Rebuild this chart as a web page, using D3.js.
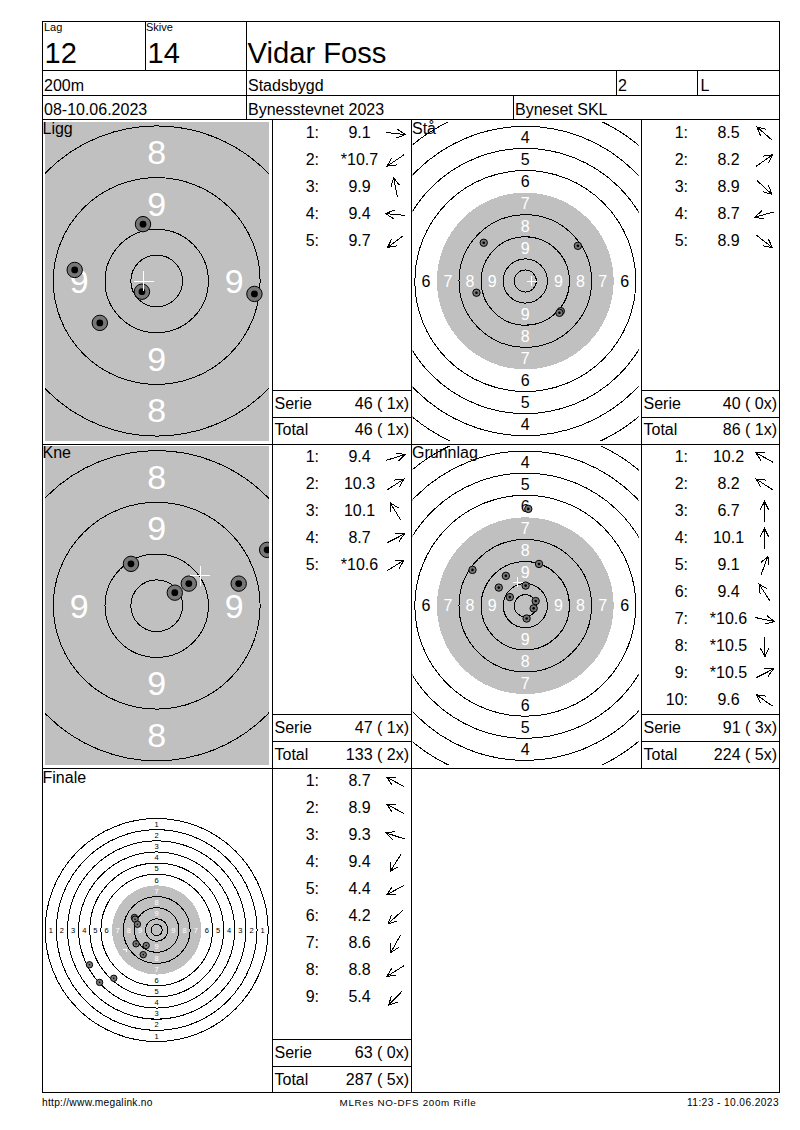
<!DOCTYPE html>
<html><head><meta charset="utf-8">
<style>html,body{margin:0;padding:0;background:#fff}svg{display:block}text{font-family:"Liberation Sans",Arial,sans-serif;fill:#000}</style>
<script src="https://cdn.jsdelivr.net/npm/d3@7"></script></head><body><div id="c"></div>
<script>
// Values. Shot positions are in ring widths from the target centre.
const liggScores=["9.1","*10.7","9.9","9.4","9.7"];
const liggDirs=[6,146,-101,-175,143];
const liggX=[1.89,-0.285,-0.265,-1.586,-1.10];
const liggY=[0.25,0.207,-1.10,-0.214,0.81];
const liggMean=[-0.25,0];
const staScores=["8.5","8.2","8.9","8.7","8.9"];
const staDirs=[-139,-35,43,165,38];
const staX=[-1.88,2.38,-2.21,1.606,1.545];
const staY=[-1.73,-1.59,0.53,1.364,1.44];
const staMean=[0.30,0];
const kneScores=["9.4","10.3","10.1","8.7","*10.6"];
const kneDirs=[-17,-33,-121,-27,-32];
const kneX=[2.136,1.586,-0.498,0.621,0.35];
const kneY=[-1.08,-0.427,-0.809,-0.427,-0.252];
const kneMean=[0.84,-0.576];
const grunnScores=["10.2","8.2","6.7","10.1","9.1","9.4","*10.6","*10.5","*10.5","9.6"];
const grunnDirs=[-151,-147,-90,-90,-70,-123,12,87,-27,-145];
const grunnX=[0.136,-2.39,0.62,-0.88,-1.2,0.015,-0.70,0.47,0.38,0.06];
const grunnY=[-4.38,-1.62,-1.89,-1.35,-0.82,-0.91,-0.39,-0.21,0.12,0.58];
const grunnMean=[-0.35,-1.05];
const finaleScores=["8.7","8.9","9.3","9.4","4.4","4.2","8.6","8.8","5.4"];
const finaleDirs=[-152,-152,-162,123,152,138,119,148,134];
const finaleX=[-2,-1.94,-1.73,-1.85,-0.94,-1.21,-6.03,-5.12,-3.85];
const finaleY=[-1.12,-0.97,-0.52,1.24,1.39,2.21,3.12,4.70,4.33];
const finaleMean=[-2.75,1.72];
const serieValues=["46 ( 1x)","40 ( 0x)","47 ( 1x)","91 ( 3x)","63 ( 0x)"];
const totalValues=["46 ( 1x)","86 ( 1x)","133 ( 2x)","224 ( 5x)","287 ( 5x)"];
const ticksLigg={v:[8,9],h:[9]};
const ticksSta={v:[4,5,6,7,8,9],h:[6,7,8,9]};
const ticksFinale={v:[1,2,3,4,5,6,7,8,9],h:[1,2,3,4,5,6,7,8,9]};
const ringScores=[1,2,3,4,5,6,8,9,10];

const GREY="#c0c0c0";
const svg=d3.select("#c").append("svg").attr("width",800).attr("height",1130);
const defs=svg.append("defs");
function txt(s,x,y,size,anchor,ls){
  const t=svg.append("text").attr("x",x).attr("y",y).attr("font-size",size)
    .attr("text-anchor",anchor||"start").text(s);
  if(ls) t.style("letter-spacing",ls+"px");
  return t;
}
const panels=[
 {id:"ligg",name:"Ligg",nx:42.5,ny:133.5,cx:156.7,cy:281,unit:51.7,clip:[45,122,224,319],tick:ticksLigg,fs:34,rs:7.7,ri:3.4,scores:liggScores,dirs:liggDirs,X:liggX,Y:liggY,mean:liggMean,cross:[10,10,10,10],col:272,top:132,rowSer:[408.7,434.7],idx:0},
 {id:"sta",name:"Stå",nx:412,ny:133.5,cx:525.3,cy:281,unit:22.1,clip:[412.7,122,226,319],tick:ticksSta,fs:16,rs:3.7,ri:1.3,scores:staScores,dirs:staDirs,X:staX,Y:staY,mean:staMean,cross:[5,5,5,5],col:641,top:132,rowSer:[408.7,434.7],idx:1},
 {id:"kne",name:"Kne",nx:42.5,ny:458,cx:156.7,cy:605.7,unit:51.7,clip:[45,446,224,319],tick:ticksLigg,fs:34,rs:7.7,ri:3.4,scores:kneScores,dirs:kneDirs,X:kneX,Y:kneY,mean:kneMean,cross:[10,10,10,10],col:272,top:456,rowSer:[732.8,759.5],idx:2},
 {id:"grunn",name:"Grunnlag",nx:412,ny:458,cx:525.3,cy:605.7,unit:22.1,clip:[412.7,446,226,319],tick:ticksSta,fs:16,rs:3.7,ri:1.3,scores:grunnScores,dirs:grunnDirs,X:grunnX,Y:grunnY,mean:grunnMean,cross:[5,5,5,5],col:641,top:456,rowSer:[732.8,759.5],idx:3},
 {id:"fin",name:"Finale",nx:42.5,ny:782.5,cx:156.7,cy:930,unit:11.15,clip:[43,800,228,260],tick:ticksFinale,fs:7.5,rs:3.2,ri:0.8,scores:finaleScores,dirs:finaleDirs,X:finaleX,Y:finaleY,mean:finaleMean,cross:[3,0,0,3],col:272,top:780.5,rowSer:[1057.8,1084.5],idx:4}
];
panels.forEach(p=>{
  const r=d3.scaleLinear().domain([0,1]).range([0,p.unit]);
  defs.append("clipPath").attr("id","cl-"+p.id).append("rect")
    .attr("x",p.clip[0]).attr("y",p.clip[1]).attr("width",p.clip[2]).attr("height",p.clip[3]);
  const g=svg.append("g").attr("clip-path",`url(#cl-${p.id})`);
  const t=g.append("g").attr("transform",`translate(${p.cx},${p.cy})`);
  t.append("circle").attr("r",r(4)).attr("fill",GREY).attr("shape-rendering","crispEdges");
  t.selectAll("circle.ring").data(ringScores).join("circle").attr("class","ring")
    .attr("r",d=>r(11-d)).attr("fill","none").attr("stroke","#000").attr("stroke-width",1).attr("shape-rendering","crispEdges");
  t.append("circle").attr("r",r(0.5)).attr("fill","none").attr("stroke","#000").attr("shape-rendering","crispEdges");
  const col=d=>d>=7?"#fff":"#000";
  p.tick.v.forEach(d=>[-1,1].forEach(s=>{
    t.append("text").attr("x",0).attr("y",s*r(10.5-d)).attr("dy","0.36em").attr("text-anchor","middle")
      .attr("font-size",p.fs).style("fill",col(d)).text(d);
  }));
  p.tick.h.forEach(d=>[-1,1].forEach(s=>{
    t.append("text").attr("x",s*r(10.5-d)).attr("y",0).attr("dy","0.36em").attr("text-anchor","middle")
      .attr("font-size",p.fs).style("fill",col(d)).text(d);
  }));
  const shots=p.X.map((x,i)=>({x,y:p.Y[i]}));
  const sg=t.selectAll("g.shot").data(shots).join("g").attr("class","shot")
    .attr("transform",d=>`translate(${r(d.x)},${r(d.y)})`);
  sg.append("circle").attr("r",p.rs).attr("fill","#777").attr("stroke","#000");
  sg.append("circle").attr("r",p.ri).attr("fill","#000");
  const mx=r(p.mean[0]),my=r(p.mean[1]),c=p.cross;
  t.append("path").attr("fill","none").attr("stroke","#fff")
    .attr("d",`M${mx-c[0]},${my}H${mx+c[1]}M${mx},${my-c[2]}V${my+c[3]}`).attr("shape-rendering","crispEdges");

  txt(p.name,p.nx,p.ny,16);

  const y=d3.scaleLinear().domain([0,1]).range([p.top,p.top+27]);
  p.scores.forEach((s,i)=>{
    txt((i+1)+":",p.col+47,y(i)+5.7,16,"end");
    txt(s,p.col+87.5,y(i)+5.7,16,"middle");
    const a=p.dirs[i]*Math.PI/180,L=10,ax=p.col+123.5,ay=y(i)+1.5;
    const hx=ax+L*Math.cos(a),hy=ay+L*Math.sin(a),tx=ax-L*Math.cos(a),ty=ay-L*Math.sin(a);
    const b=9.5,sp=27*Math.PI/180;
    svg.append("path").attr("fill","none").attr("stroke","#000").attr("stroke-width",1).attr("shape-rendering","crispEdges")
      .attr("d",`M${tx},${ty}L${hx},${hy}M${hx-b*Math.cos(a-sp)},${hy-b*Math.sin(a-sp)}L${hx},${hy}L${hx-b*Math.cos(a+sp)},${hy-b*Math.sin(a+sp)}`);
  });
  const right=p.col===272?409:777;
  txt("Serie",p.col+2.5,p.rowSer[0],16);
  txt(serieValues[p.idx],right,p.rowSer[0],16,"end");
  txt("Total",p.col+2.5,p.rowSer[1],16);
  txt(totalValues[p.idx],right,p.rowSer[1],16,"end");
});

const H=[[42,780,21.5],[42,780,70.5],[42,780,95.5],[42,780,119.5],[42,780,444.5],[42,780,768.5],[42,780,1092.5],
 [272,411,390.5],[272,411,417.5],[641,780,390.5],[641,780,417.5],[272,411,714.5],[272,411,741.5],[641,780,714.5],[641,780,741.5],[272,411,1039.5],[272,411,1066.5]];
const V=[[42.5,21,1093],[779.5,21,1093],[145.5,21,71],[246.5,21,120],[616.5,70,96],[697.5,70,96],[513.5,95,120],
 [272.5,119,1093],[411.5,119,1093],[641.5,119,769]];
const fr=svg.append("g").attr("stroke","#000").attr("stroke-width",1).attr("shape-rendering","crispEdges");
fr.selectAll("line.h").data(H).join("line").attr("class","h").attr("x1",d=>d[0]).attr("x2",d=>d[1]).attr("y1",d=>d[2]).attr("y2",d=>d[2]);
fr.selectAll("line.v").data(V).join("line").attr("class","v").attr("x1",d=>d[0]).attr("x2",d=>d[0]).attr("y1",d=>d[1]).attr("y2",d=>d[2]);

txt("Lag",44,31,11); txt("Skive",146,31,11);
txt("12",44.5,63,29); txt("14",147.5,63,29); txt("Vidar Foss",247.5,63,29.2);
txt("200m",44,91,16); txt("Stadsbygd",248,91,16); txt("2",618,91,16); txt("L",700.5,91,16);
txt("08-10.06.2023",44,115,16); txt("Bynesstevnet 2023",248,115,16); txt("Byneset SKL",515,115,16);
txt("http://www.megalink.no",42,1106,10.2,"start",0.27);
txt("MLRes NO-DFS 200m Rifle",408,1106,9.8,"middle",0.7);
txt("11:23 - 10.06.2023",779,1106,10.2,"end",0.4);
</script></body></html>
